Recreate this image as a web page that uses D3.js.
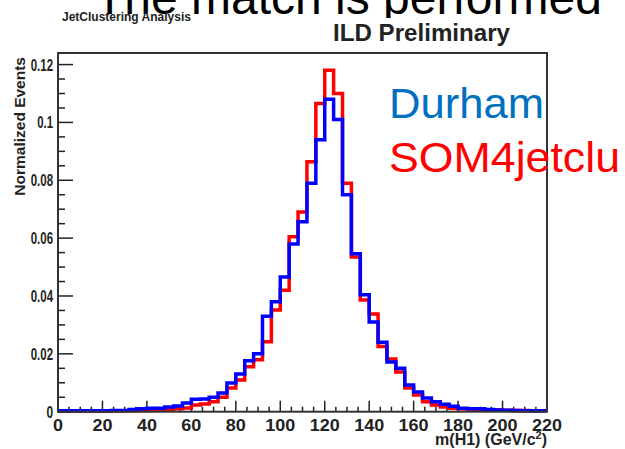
<!DOCTYPE html>
<html>
<head>
<meta charset="utf-8">
<script src="https://cdn.jsdelivr.net/npm/d3@7"></script>
<style>
  body { margin: 0; background: #fff; }
  svg { display: block; }
  .lbl { font-family: "Liberation Sans", Arial, sans-serif; font-weight: bold; fill: #222; }
</style>
</head>
<body>
<svg id="chart" width="625" height="449"></svg>
<script>
// bin lower edges in GeV, 4 GeV wide
var binLow = [0, 4, 8, 12, 16, 20, 24, 28, 32, 36, 40, 44, 48, 52, 56, 60, 64, 68, 72, 76,
              80, 84, 88, 92, 96, 100, 104, 108, 112, 116, 120, 124, 128, 132, 136, 140, 144, 148, 152, 156,
              160, 164, 168, 172, 176, 180, 184, 188, 192, 196, 200, 204, 208, 212, 216];
var binWidth = 4;

var durham = [0.0003, 0.0003, 0.0003, 0.0003, 0.0003, 0.0003, 0.0004, 0.0004, 0.0008, 0.0010,
              0.0012, 0.0012, 0.0016, 0.0020, 0.0030, 0.0043, 0.0044, 0.0050, 0.0065, 0.0099,
              0.0130, 0.0176, 0.0200, 0.0330, 0.0380, 0.0466, 0.0580, 0.0657, 0.0790, 0.0940,
              0.1080, 0.1010, 0.0750, 0.0546, 0.0404, 0.0310, 0.0240, 0.0172, 0.0150, 0.0092,
              0.0068, 0.0047, 0.0034, 0.0026, 0.0019, 0.0012, 0.0010, 0.0010, 0.0008, 0.0006,
              0.0005, 0.0004, 0.0003, 0.0003, 0.0003];

var som4 = [0.0002, 0.0002, 0.0002, 0.0003, 0.0002, 0.0002, 0.0003, 0.0003, 0.0003, 0.0004,
            0.0004, 0.0005, 0.0007, 0.0010, 0.0013, 0.0023, 0.0027, 0.0034, 0.0050, 0.0082,
            0.0110, 0.0155, 0.0180, 0.0242, 0.0352, 0.0420, 0.0605, 0.0690, 0.0864, 0.1065,
            0.1180, 0.1100, 0.0790, 0.0535, 0.0386, 0.0338, 0.0225, 0.0182, 0.0137, 0.0082,
            0.0058, 0.0034, 0.0023, 0.0016, 0.0012, 0.0010, 0.0009, 0.0008, 0.0007, 0.0006,
            0.0005, 0.0004, 0.0004, 0.0003, 0.0003];

var xTicks = [0, 20, 40, 60, 80, 100, 120, 140, 160, 180, 200, 220];
var yTicks = [0, 0.02, 0.04, 0.06, 0.08, 0.1, 0.12];

(function() {
    var svg = d3.select('#chart');
    var pLeft = 58, pRight = 547, pTop = 53, pBottom = 411.7;

    var x = d3.scaleLinear().domain([0, 220]).range([pLeft, pRight]);
    var y = d3.scaleLinear().domain([0, 0.124]).range([pBottom, pTop]);

    // slide text cut off at the top of the screenshot
    svg.append('text')
        .attr('x', 95).attr('y', 14)
        .style('font-family', '"Liberation Sans", Arial, sans-serif')
        .style('font-size', '48px')
        .attr('fill', '#000')
        .text('The match is performed');

    svg.append('rect')
        .attr('x', 0).attr('y', 18)
        .attr('width', 625).attr('height', 431)
        .attr('fill', '#fff');

    svg.append('text').attr('class', 'lbl')
        .attr('x', 62).attr('y', 21)
        .style('font-size', '12px')
        .text('JetClustering Analysis');

    svg.append('text').attr('class', 'lbl')
        .attr('x', 333).attr('y', 41)
        .style('font-size', '24px')
        .attr('textLength', 177)
        .attr('lengthAdjust', 'spacingAndGlyphs')
        .attr('fill', '#111')
        .text('ILD Preliminary');

    // ticks
    var gx = svg.append('g').attr('transform', 'translate(0,' + pBottom + ')');
    gx.selectAll('line')
        .data(d3.range(0, 221, 5))
        .enter().append('line')
        .attr('x1', function(d) { return x(d); })
        .attr('x2', function(d) { return x(d); })
        .attr('y1', 0)
        .attr('y2', function(d) { return d % 20 === 0 ? -11 : -5; })
        .attr('stroke', '#222').attr('stroke-width', 1.5);
    gx.selectAll('text')
        .data(xTicks)
        .enter().append('text')
        .attr('class', 'lbl')
        .attr('x', function(d) { return x(d); })
        .attr('y', 19)
        .attr('text-anchor', 'middle')
        .style('font-size', '16px')
        .attr('textLength', function(d) { return String(d).length * 10; })
        .attr('lengthAdjust', 'spacingAndGlyphs')
        .text(function(d) { return d; });

    var gy = svg.append('g').attr('transform', 'translate(' + pLeft + ',0)');
    gy.selectAll('line')
        .data(d3.range(0, 25))
        .enter().append('line')
        .attr('y1', function(i) { return y(i * 0.005); })
        .attr('y2', function(i) { return y(i * 0.005); })
        .attr('x1', 0)
        .attr('x2', function(i) { return i % 4 === 0 ? 15 : 7; })
        .attr('stroke', '#222').attr('stroke-width', 1.5);
    var fmtY = function(d) { return d === 0 ? '0' : d3.format('.2~f')(d); };
    gy.selectAll('text')
        .data(yTicks)
        .enter().append('text')
        .attr('class', 'lbl')
        .attr('x', -5)
        .attr('y', function(d) { return y(d) + 6; })
        .attr('text-anchor', 'end')
        .style('font-size', '16px')
        .attr('textLength', function(d) {
            var s = fmtY(d);
            return s.replace('.', '').length * 6.6 + (s.indexOf('.') >= 0 ? 2.5 : 0);
        })
        .attr('lengthAdjust', 'spacingAndGlyphs')
        .text(fmtY);

    // histograms
    var line = d3.line()
        .x(function(d) { return x(d[0]); })
        .y(function(d) { return y(d[1]); })
        .curve(d3.curveStepAfter);

    var stepPoints = function(vals) {
        var pts = binLow.map(function(b, i) { return [b, vals[i]]; });
        pts.push([binLow[binLow.length - 1] + binWidth, vals[vals.length - 1]]);
        return pts;
    };

    svg.append('defs').append('clipPath').attr('id', 'clip')
        .append('rect').attr('x', pLeft).attr('y', pTop)
        .attr('width', pRight - pLeft).attr('height', pBottom - pTop + 2);

    var gh = svg.append('g').attr('clip-path', 'url(#clip)');
    gh.append('path').attr('d', line(stepPoints(som4)))
        .attr('fill', 'none').attr('stroke', '#ff0000').attr('stroke-width', 3.5);
    gh.append('path').attr('d', line(stepPoints(durham)))
        .attr('fill', 'none').attr('stroke', '#0000ff').attr('stroke-width', 3.5);

    // frame
    svg.append('rect')
        .attr('x', pLeft).attr('y', pTop)
        .attr('width', pRight - pLeft).attr('height', pBottom - pTop)
        .attr('fill', 'none').attr('stroke', '#333').attr('stroke-width', 2);

    // axis titles
    svg.append('text').attr('class', 'lbl')
        .attr('transform', 'translate(25,57) rotate(-90)')
        .attr('text-anchor', 'end')
        .style('font-size', '15.5px')
        .text('Normalized Events');

    var xt = svg.append('text').attr('class', 'lbl')
        .attr('x', pRight).attr('y', 445)
        .attr('text-anchor', 'end')
        .style('font-size', '16px');
    xt.append('tspan').text('m(H1) (GeV/c');
    xt.append('tspan').attr('dy', -6).style('font-size', '11px').text('2');
    xt.append('tspan').attr('dy', 6).text(')');

    // legend text from the slide
    svg.append('text')
        .attr('x', 389).attr('y', 118)
        .style('font-family', '"Liberation Sans", Arial, sans-serif')
        .style('font-size', '43px')
        .attr('textLength', 155)
        .attr('lengthAdjust', 'spacingAndGlyphs')
        .attr('fill', '#0070c0')
        .text('Durham');
    svg.append('text')
        .attr('x', 389).attr('y', 172)
        .style('font-family', '"Liberation Sans", Arial, sans-serif')
        .style('font-size', '43px')
        .attr('textLength', 231)
        .attr('lengthAdjust', 'spacingAndGlyphs')
        .attr('fill', '#ff0000')
        .text('SOM4jetclu');
})();
</script>
</body>
</html>
